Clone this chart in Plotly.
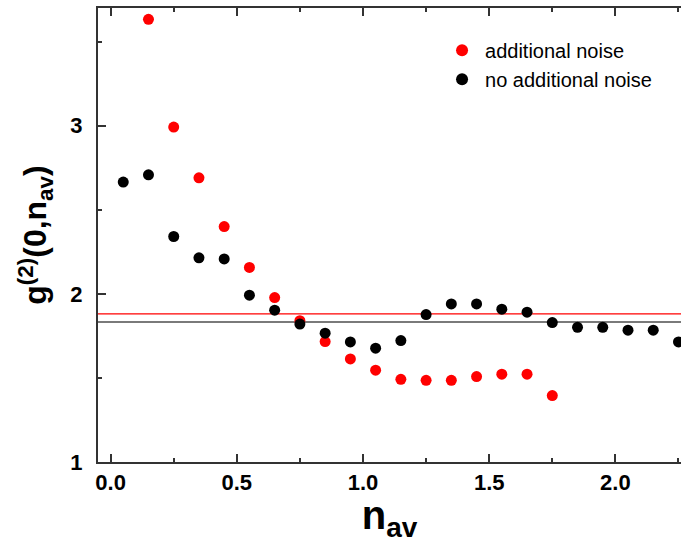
import plotly.graph_objects as go

# data
x_red = [0.15, 0.25, 0.35, 0.45, 0.55, 0.65, 0.75, 0.85, 0.95, 1.05, 1.15, 1.25, 1.35, 1.45, 1.55, 1.65, 1.75]
y_red = [3.633, 2.992, 2.69, 2.40, 2.157, 1.978, 1.84, 1.716, 1.613, 1.546, 1.492, 1.486, 1.486, 1.508, 1.522, 1.522, 1.395]
x_black = [0.05, 0.15, 0.25, 0.35, 0.45, 0.55, 0.65, 0.75, 0.85, 0.95, 1.05, 1.15, 1.25, 1.35, 1.45, 1.55, 1.65, 1.75,
           1.85, 1.95, 2.05, 2.15, 2.25]
y_black = [2.665, 2.708, 2.341, 2.214, 2.208, 1.992, 1.903, 1.82, 1.766, 1.714, 1.677, 1.722, 1.877, 1.94, 1.94, 1.909,
           1.891, 1.829, 1.801, 1.801, 1.784, 1.784, 1.714]
level_red = 1.881
level_black = 1.832
series_names = ["additional noise", "no additional noise"]
x_ticks = [0.0, 0.5, 1.0, 1.5, 2.0]
y_ticks = [1, 2, 3]

FONT = "Arial, 'Liberation Sans', sans-serif"

fig = go.Figure()
fig.add_trace(go.Scatter(x=x_red, y=y_red, mode="markers", name=series_names[0],
                         marker=dict(color="#ff0000", size=11, line=dict(width=0)), cliponaxis=True))
fig.add_trace(go.Scatter(x=x_black, y=y_black, mode="markers", name=series_names[1],
                         marker=dict(color="#000000", size=11, line=dict(width=0)), cliponaxis=True))

fig.add_shape(type="line", xref="paper", x0=0, x1=1, yref="y", y0=level_red, y1=level_red,
              line=dict(color="#ff0000", width=1.2), layer="below")
fig.add_shape(type="line", xref="paper", x0=0, x1=1, yref="y", y0=level_black, y1=level_black,
              line=dict(color="#7a7a7a", width=2), layer="below")

fig.update_layout(
    width=681, height=543,
    margin=dict(l=98, r=0, t=8, b=81, autoexpand=False),
    plot_bgcolor="white", paper_bgcolor="white",
    font=dict(family=FONT, color="black"),
    showlegend=True,
    legend=dict(x=0.585, y=0.95, xanchor="left", yanchor="top", bgcolor="rgba(0,0,0,0)",
                font=dict(size=20, family=FONT, color="black"), itemsizing="constant",
                itemwidth=36, tracegroupgap=0),
)
fig.update_xaxes(
    range=[-0.05, 2.26], tickvals=x_ticks, ticktext=[f"{v:.1f}" for v in x_ticks],
    automargin=False,
    showgrid=False, zeroline=False, showline=True, linecolor="#333333", linewidth=2,
    mirror="ticks", ticks="inside", ticklen=8, tickwidth=1.5, tickcolor="#333333",
    minor=dict(dtick=0.25, tick0=0, ticks="inside", ticklen=4, tickwidth=1.5, tickcolor="#333333"),
    tickfont=dict(size=22, family=FONT, weight="bold"),
    title=dict(text="<b>n<sub>av</sub></b>", font=dict(size=40, family=FONT), standoff=8),
)
fig.update_yaxes(
    range=[1, 3.70], tickvals=y_ticks, ticktext=[str(v) for v in y_ticks],
    automargin=False, ticklabelstandoff=9,
    showgrid=False, zeroline=False, showline=True, linecolor="#333333", linewidth=2,
    mirror=False, ticks="inside", ticklen=8, tickwidth=1.5, tickcolor="#333333",
    minor=dict(dtick=0.5, tick0=1, ticks="inside", ticklen=4, tickwidth=1.5, tickcolor="#333333"),
    tickfont=dict(size=22, family=FONT, weight="bold"),
    title=dict(text="<b>g<sup>(2)</sup>(0,n<sub>av</sub>)</b>", font=dict(size=32, family=FONT), standoff=14),
)

fig.write_html("out.html", config={"displayModeBar": False},
               post_script="document.body.style.margin='0px';document.body.style.overflow='hidden';")
